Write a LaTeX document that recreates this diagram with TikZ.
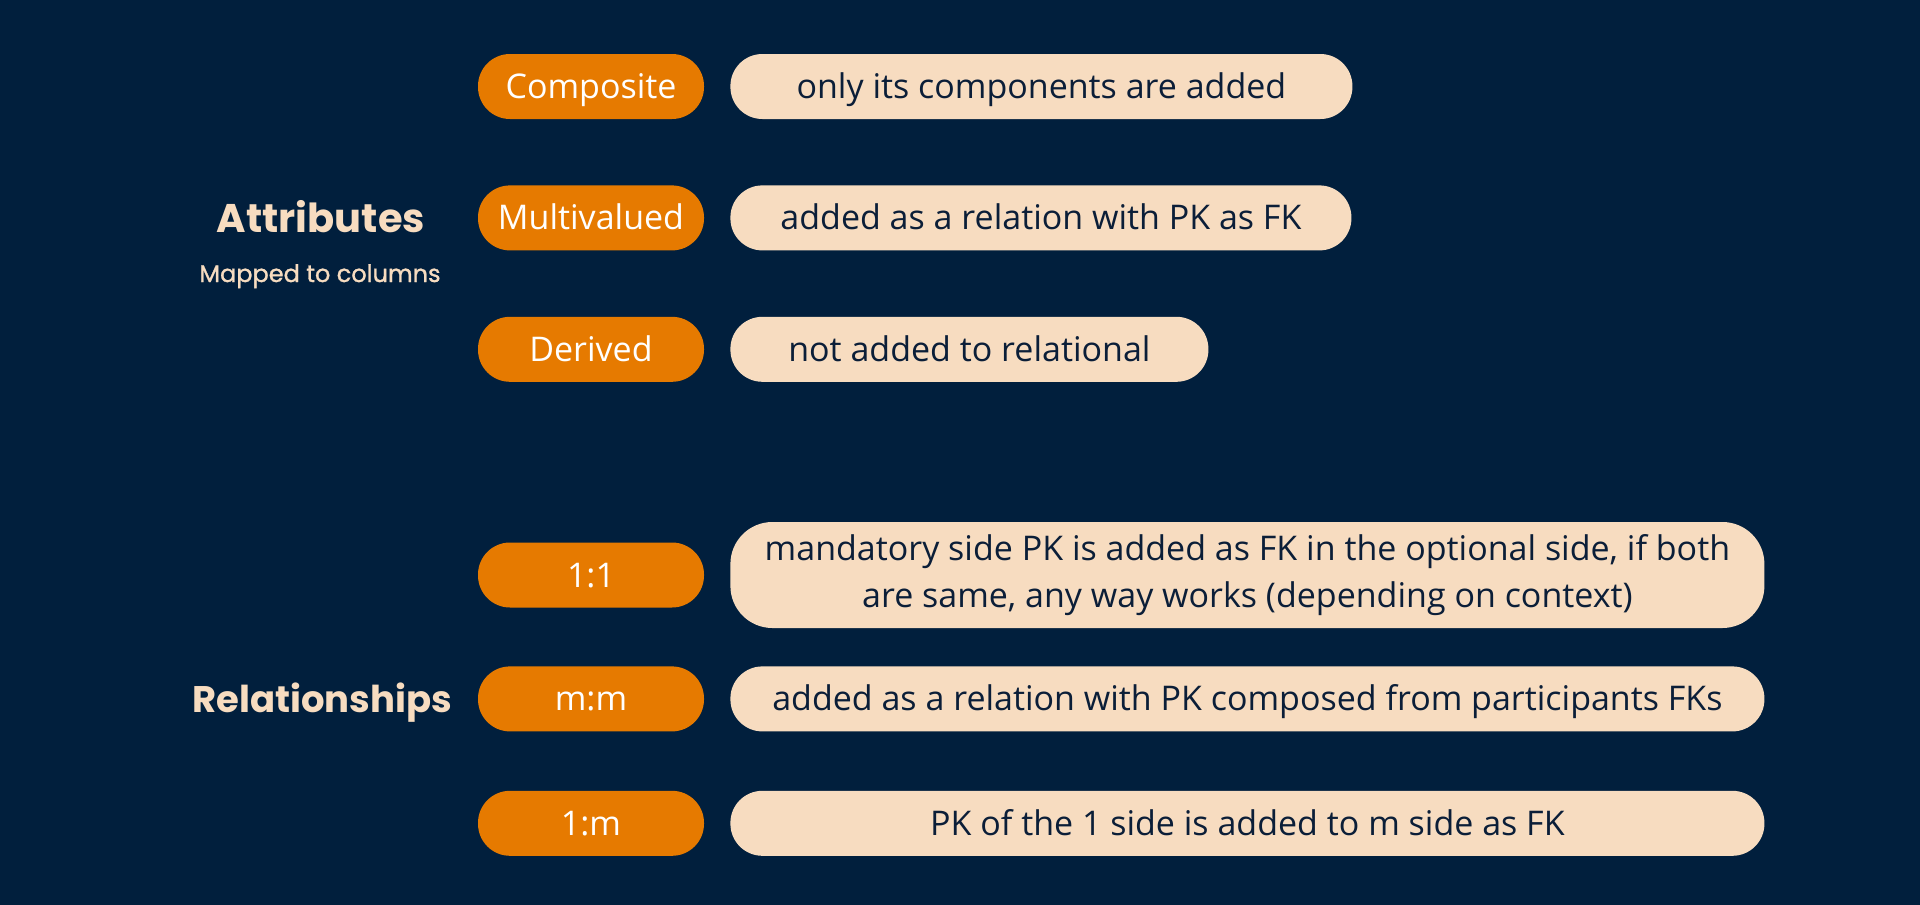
\documentclass[tikz,border=0pt]{standalone}
\usepackage{fontspec}
\setmainfont{Open Sans}
\newfontfamily\headfont{Poppins}
\newfontfamily\subfont{Poppins}[FakeBold=1.2]
\usetikzlibrary{positioning}
\definecolor{navy}{HTML}{011F3D}
\definecolor{tagorange}{HTML}{E67A00}
\definecolor{sand}{HTML}{F7DCC0}
\definecolor{ink}{HTML}{0B1E38}

\begin{document}
\begin{tikzpicture}[x=1pt, y=-1pt,
        node distance=26pt,
        pill/.style={rectangle, rounded corners=32pt, inner sep=0pt, minimum height=65pt, align=center},
        tag/.style={pill, fill=tagorange, text=white, minimum width=226pt, text height=24pt, text depth=0pt, font=\fontsize{34}{40}\selectfont},
        desc/.style={pill, fill=sand, text=ink, text height=24pt, text depth=0pt, font=\fontsize{34}{47}\selectfont},
        desctall/.style={pill, fill=sand, text=ink, rounded corners=42pt, minimum height=106pt, font=\fontsize{34}{47}\selectfont},
        heading/.style={anchor=base, text=sand, font=\headfont\bfseries\fontsize{40}{48}\selectfont},
        subheading/.style={anchor=base, text=sand, font=\subfont\fontsize{24}{28}\selectfont}
    ]

    % Background
    \fill[navy] (0,0) rectangle (1920,905);
    \useasboundingbox (0,0) rectangle (1920,905);

    % Attributes
    \node[heading] (attributes) at (321,232) {Attributes};
    \node[subheading] (mapped) at (320,282) {Mapped to columns};

    \node[tag] (composite) at (591,86.5) {Composite};
    \node[tag, below=66pt of composite] (multivalued) {Multivalued};
    \node[tag, below=66pt of multivalued] (derived) {Derived};

    \node[desc, minimum width=622pt, right=of composite] (compositedesc) {only its components are added};
    \node[desc, minimum width=621pt, right=of multivalued] (multivalueddesc) {added as a relation with PK as FK};
    \node[desc, minimum width=478pt, right=of derived] (deriveddesc) {not added to relational};

    % Relationships
    \node[heading, font=\headfont\bfseries\fontsize{37}{44}\selectfont] (relationships) at (322,712) {Relationships};

    \node[tag] (onetoone) at (591,575) {1:1};
    \node[tag, below=58.5pt of onetoone] (manytomany) {m:m};
    \node[tag, below=59pt of manytomany] (onetomany) {1:m};

    \node[desctall, minimum width=1034pt, right=of onetoone] (onetoonedesc) {mandatory side PK is added as FK in the optional side, if both\\are same, any way works (depending on context)};
    \node[desc, minimum width=1034pt, right=of manytomany] (manytomanydesc) {added as a relation with PK composed from participants FKs};
    \node[desc, minimum width=1034pt, right=of onetomany] (onetomanydesc) {PK of the 1 side is added to m side as FK};

\end{tikzpicture}
\end{document}
